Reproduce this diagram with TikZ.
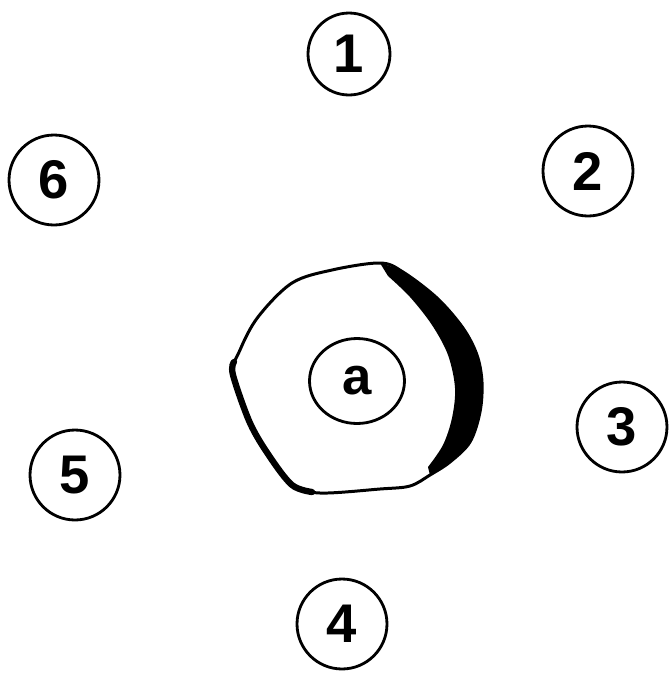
\documentclass[tikz,border=0pt]{standalone}
\usepackage{fontspec}
\setmainfont{Liberation Sans}
\usetikzlibrary{positioning,shapes.geometric}

\tikzset{
  numring/.style={draw,circle,line width=1.6pt,minimum size=1.8cm,inner sep=0pt,
    font=\fontsize{31}{31}\selectfont\bfseries},
  rim/.style={line width=1.7pt,line join=round}
}

\begin{document}
\begin{tikzpicture}[x=0.02cm,y=-0.02cm]
  \useasboundingbox (0,0) rectangle (670,674);

  % outer wall
  \draw[rim] plot[smooth cycle,tension=0.55] coordinates {
    (380,263) (403,272) (437,298) (463,328) (477,355) (482,382) (480,412)
    (470,442) (450,462) (430,475) (410,486) (380,489) (320,493) (292,485)
    (270,457) (250,423) (233,375) (240,350) (258,317) (292,283) (332,270)};
  % heavy left edge
  \draw[line width=3.6pt,line cap=round] plot[smooth,tension=0.55] coordinates {
    (234,362) (233,375) (250,423) (270,457) (292,485) (312,492)};
  % dark band on the right
  \fill plot[smooth,tension=0.55] coordinates {
    (380,263) (403,272) (437,298) (463,328) (477,355) (482,382) (480,412)
    (470,442) (450,462) (430,475)}
    -- plot[smooth,tension=0.55] coordinates {
    (428,467) (443,445) (452,418) (455,388) (448,355) (432,325) (410,297)
    (388,276)}
    -- cycle;

  % inner ring
  \node[numring,ellipse,minimum width=1.9cm,minimum height=1.7cm,
    font=\fontsize{30}{30}\selectfont\bfseries] (a) at (357,381) {a};

  % outer rings
  \node[numring,minimum size=1.64cm] (n1) at (349,54) {1};
  \node[numring] (n2) at (588,171) {2};
  \node[numring] (n3) at (622,427) {3};
  \node[numring] (n4) at (342,624) {4};
  \node[numring] (n5) at (75,475) {5};
  \node[numring] (n6) at (54,180) {6};
\end{tikzpicture}
\end{document}
